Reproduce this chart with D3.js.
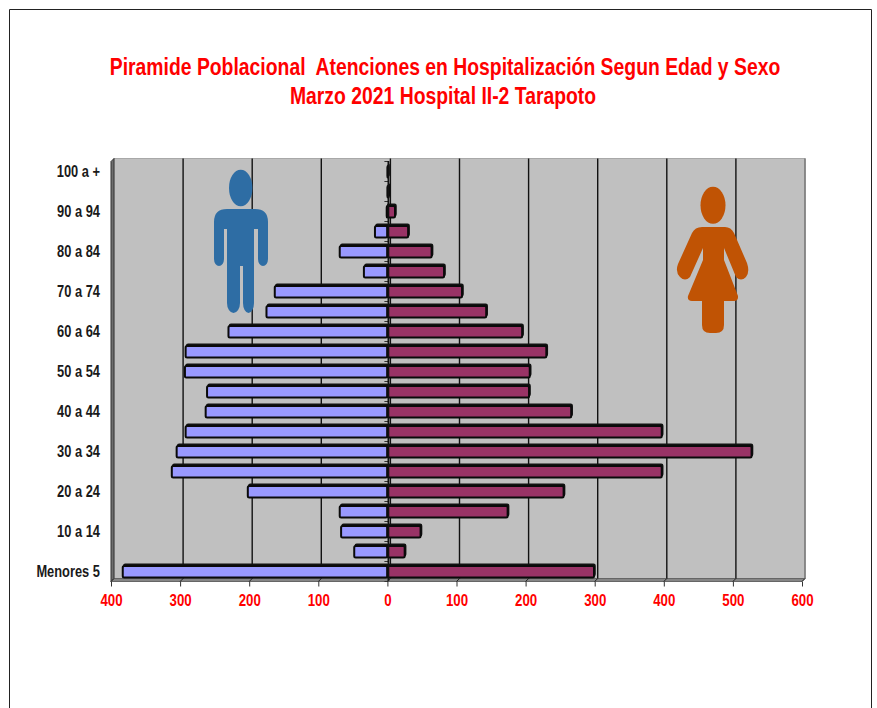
<!DOCTYPE html>
<html><head><meta charset="utf-8">
<style>html,body{margin:0;padding:0;background:#fff;overflow:hidden}svg{display:block}
text{font-family:"Liberation Sans",Arial,sans-serif;font-weight:bold}</style>
<script src="https://cdnjs.cloudflare.com/ajax/libs/d3/7.8.5/d3.min.js"></script>
</head><body><svg id="c" width="877" height="708"></svg>
<script>
const categories=["Menores 5","5 a 9","10 a 14","15 a 19","20 a 24","25 a 29","30 a 34","35 a 39","40 a 44","45 a 49","50 a 54","55 a 59","60 a 64","65 a 69","70 a 74","75 a 79","80 a 84","85 a 89","90 a 94","95 a 99","100 a +"];
const hombres=[383,48,67,69,202,312,305,292,263,261,293,292,230,175,163,34,69,18,1,0,0];
const mujeres=[299,25,48,174,255,397,527,397,266,205,206,230,195,143,108,82,64,30,11,2,1];
const xTicks=[-400,-300,-200,-100,0,100,200,300,400,500,600];
const titulo=["Piramide Poblacional  Atenciones en Hospitalización Segun Edad y Sexo","Marzo 2021 Hospital II-2 Tarapoto"];

const svg=d3.select("#c");
const dx=3,dy=3;
const x=d3.scaleLinear().domain([-400,600]).range([111,802]);
const y=d3.scaleBand().domain(categories.slice().reverse()).range([161.5,581.5]).paddingInner(0.42).paddingOuter(0.21);
const backL=x(-400)+dx,backR=x(600)+dx,backT=158.5,backB=578.5,frontB=581.5;

// frame
svg.append("path").attr("d","M9.5,708V9.5H871.5V708").attr("fill","none").attr("stroke","#222").attr("stroke-width",1);

// title
svg.append("g").selectAll("text").data(titulo).join("text")
 .attr("transform",(d,i)=>`translate(${i?443:445},${i?104:74.5}) scale(0.807,1)`).attr("text-anchor","middle")
 .attr("fill","#ff0000").attr("font-size",24).style("white-space","pre").text(d=>d);

// walls
svg.append("rect").attr("x",backL).attr("y",backT).attr("width",backR-backL).attr("height",backB-backT).attr("fill","#c0c0c0").attr("stroke","#a8a8a8");
svg.append("path").attr("d",`M${x(-400)},${backT+dy}L${backL},${backT}V${backB}L${x(-400)},${frontB}Z`).attr("fill","#6e6e6e").attr("stroke","#333");
svg.append("path").attr("d",`M${backL},${backB}H${backR}L${x(600)},${frontB}H${x(-400)}Z`).attr("fill","#858585").attr("stroke","#666");

// gridlines
svg.append("g").selectAll("line").data(xTicks.slice(1,-1)).join("line")
 .attr("x1",d=>x(d)+dx).attr("x2",d=>x(d)+dx).attr("y1",backT).attr("y2",backB)
 .attr("stroke","#111").attr("stroke-width",1.4);
svg.append("line").attr("x1",backR).attr("x2",backR).attr("y1",backT).attr("y2",backB).attr("stroke","#777").attr("stroke-width",1.5);

// icons (decorative figures)
const man=svg.append("g").attr("fill","#2e6da4");
man.append("ellipse").attr("cx",240.7).attr("cy",188).attr("rx",11.7).attr("ry",18.3);
man.append("path").attr("d","M227,209H255Q268,209 268,222V259A5,7 0 0 1 258,259V229H254V303A5.500,10 0 0 1 243,303V266H240V303A6.500,10 0 0 1 227,303V229H224V259A5,7 0 0 1 214,259V222Q214,209 227,209Z");
const woman=svg.append("g").attr("fill","#c05304");
woman.append("ellipse").attr("cx",713).attr("cy",205.3).attr("rx",12.5).attr("ry",18.5);
woman.append("path").attr("d","M702,227H725Q731,227 734,233L747,263Q750,272 746,277Q741,282 736,277L724,248V260L738,296Q738.500,301 734,301H724V325Q724,333 716,333H710Q702,333 702,325V301H692Q687,301 688,296L703,260V248L690,277Q685,282 680,277Q675,272 678,264L692,233Q695,227 702,227Z");

// y tick marks along centre axis
const cat=categories;
svg.append("g").selectAll("line").data(d3.range(cat.length+1)).join("line")
 .attr("x1",x(0)-3).attr("x2",x(0)+1)
 .attr("y1",i=>161.5+i*20).attr("y2",i=>161.5+i*20).attr("stroke","#333");

// bars
const barsH=svg.append("g"),barsM=svg.append("g");
function bars(g,vals,fill,sign){
 const data=vals.map((v,i)=>({c:cat[i],v})).filter(d=>d.v>0);
 g.selectAll("rect.s").data(data).join("rect").attr("class","s")
  .attr("x",d=>sign<0?x(-d.v)+1:x(0)+1).attr("y",d=>y(d.c)-1.5)
  .attr("width",d=>Math.abs(x(d.v)-x(0))).attr("height",y.bandwidth())
  .attr("fill","#111").attr("stroke","#111").attr("stroke-width",1.5).attr("rx",1.5);
 g.selectAll("rect.b").data(data).join("rect").attr("class","b")
  .attr("x",d=>sign<0?x(-d.v):x(0)).attr("y",d=>y(d.c)+0.3)
  .attr("width",d=>Math.abs(x(d.v)-x(0))).attr("height",y.bandwidth())
  .attr("fill",fill).attr("stroke","#0a0a0a").attr("stroke-width",2).attr("rx",1.5);
}
bars(barsH,hombres,"#9999ff",-1);
bars(barsM,mujeres,"#993366",1);
svg.append("line").attr("x1",x(0)+1).attr("x2",x(0)+1).attr("y1",161).attr("y2",581).attr("stroke","#111").attr("stroke-width",1.8);

// x axis
const axis=svg.append("g").attr("transform",`translate(0,${frontB})`)
 .call(d3.axisBottom(x).tickValues(xTicks).tickFormat(d=>Math.abs(d)).tickSize(5).tickPadding(4));
axis.select(".domain").remove();
axis.selectAll("line").attr("stroke","#333");
axis.selectAll("text").attr("y",0).attr("dy",0)
 .attr("transform","translate(0,24) scale(0.78,1)")
 .attr("fill","#ff0000").attr("font-size",17).style("font-family",'"Liberation Sans",sans-serif');
svg.append("g").selectAll("line").data(xTicks).join("line")
 .attr("x1",d=>x(d)).attr("x2",d=>x(d)+dx).attr("y1",frontB).attr("y2",backB).attr("stroke","#222");

// y labels
svg.append("g").selectAll("text").data(cat.filter((d,i)=>i%2===0)).join("text")
 .attr("transform",d=>`translate(100,${y(d)+y.bandwidth()/2+5.5}) scale(0.78,1)`).attr("text-anchor","end")
 .attr("fill","#1a1a1a").attr("font-size",16.5).text(d=>d);
</script></body></html>
